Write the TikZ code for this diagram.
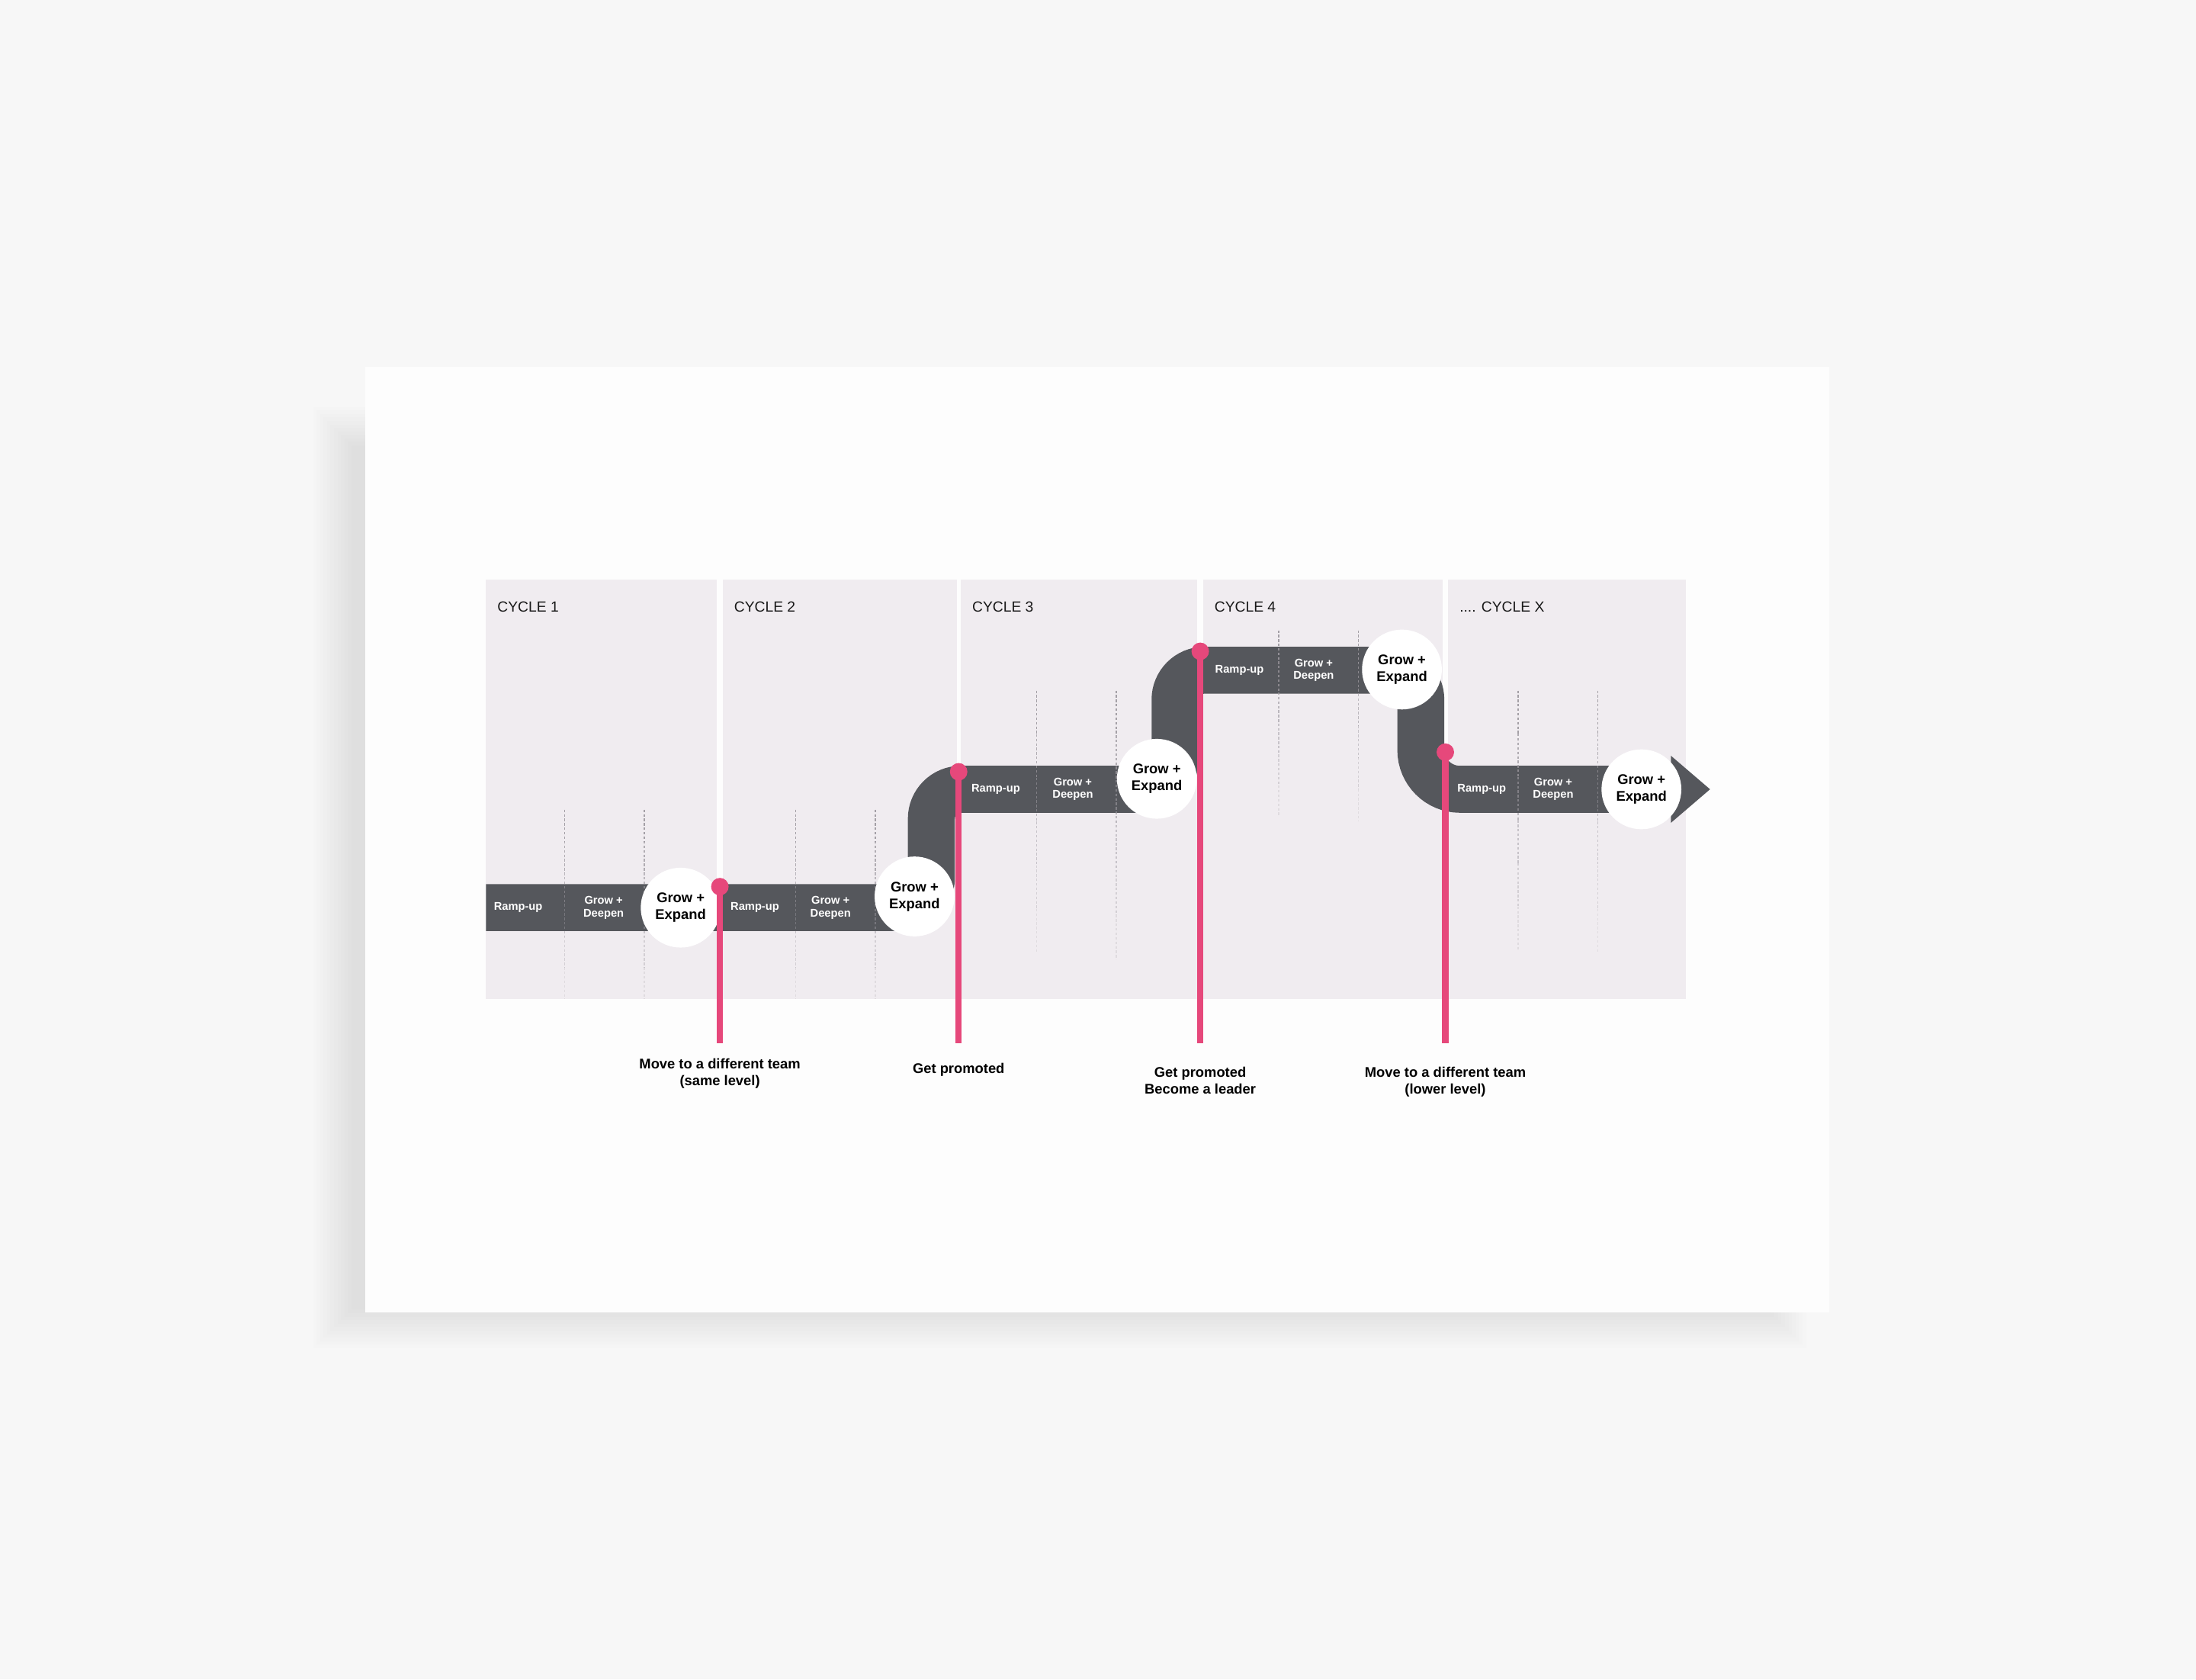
\documentclass[tikz,border=0pt]{standalone}
\usepackage{fontspec}
\setmainfont{Liberation Sans}
\usetikzlibrary{positioning}

\definecolor{pagebg}{HTML}{F7F7F7}
\definecolor{cardbg}{HTML}{FDFDFD}
\definecolor{panelbg}{HTML}{F0ECF0}
\definecolor{bandgray}{HTML}{55575C}
\definecolor{markpink}{HTML}{E6487B}
\definecolor{dashgray}{HTML}{9C989F}

\newcommand{\lastcycle}{.... CYCLE X}

\tikzset{
  panel/.style={fill=panelbg, draw=none},
  cyclelabel/.style={anchor=base west, inner sep=0pt, text=black!90, font=\fontsize{10.5}{12}\selectfont},
  phase/.style={dashgray, line width=0.7pt, dash pattern=on 1.8pt off 1.4pt},
  band/.style={bandgray, line width=33.5pt, rounded corners=21pt},
  bandtext/.style={text=white, align=center, inner sep=0pt, font=\fontsize{8}{9}\selectfont\bfseries},
  stage/.style={circle, fill=white, minimum size=57pt, inner sep=0pt, align=center, font=\fontsize{10}{12}\selectfont\bfseries},
  pin/.style={circle, fill=markpink, minimum size=12.5pt, inner sep=0pt},
  pinline/.style={markpink, line width=4.5pt},
  move/.style={align=center, inner sep=0pt, font=\fontsize{10}{12}\selectfont\bfseries},
}

\begin{document}
\begin{tikzpicture}[x=1pt, y=-1pt]
  \fill[pagebg] (0,0) rectangle (1568,1199);
  \useasboundingbox (0,0) rectangle (1568,1199);

  % card and its shadow
  \foreach \k in {0,...,11}
    \fill[black, opacity=0.008] ({251-2.5*\k},{318-2.5*\k}) rectangle ({1262+2.5*\k},{935+2.5*\k});
  \fill[cardbg] (261,262) rectangle (1306,937);

  % cycles
  \foreach \i/\xl/\xr/\lab in {1/347/512/CYCLE 1, 2/516/683/CYCLE 2, 3/686/855/CYCLE 3,
                               4/859/1030/CYCLE 4, 5/1034/1204/\lastcycle} {
    \fill[panel] (\xl,414) rectangle (\xr,713);
    \node[cyclelabel] (c\i) at ({\xl+8},437) {\lab};
  }

  % path through the levels
  \draw[band] (347,648) -- (665,648) -- (665,563.5) -- (839,563.5) -- (839,478.5)
    -- (1014.5,478.5) [rounded corners=28pt] -- (1014.5,563.5) -- (1196,563.5);
  \fill[bandgray] (1193,539.5) -- (1221,563.5) -- (1193,587.5) -- cycle;

  % phase lines, lighter towards the bottom
  \foreach \x/\ya/\yb in {403/578/713, 460/578/713, 568/578/713, 625/578/713, 740/493/680,
                          797/493/685, 913/450/583, 970/450/586, 1084/493/678, 1141/493/680}
    \foreach \s in {0,...,5}
      \draw[phase, opacity={0.9-0.14*\s}] (\x,{\ya+\s*(\yb-\ya)/6}) -- (\x,{\ya+(\s+1)*(\yb-\ya)/6});

  \foreach \i/\xa/\xb/\y in {1/370/431/648, 2/539/593/648, 3/711/766/563.5,
                             4/885/938/478.5, 5/1058/1109/563.5} {
    \node[bandtext] (r\i) at (\xa,\y) {Ramp-up};
    \node[bandtext] (g\i) at (\xb,\y) {Grow +\\Deepen};
  }

  \foreach \i/\x/\y in {1/486/648, 2/653/640, 3/826/556, 4/1001/478, 5/1172/563.5}
    \node[stage] (s\i) at (\x,\y) {Grow +\\Expand};

  % moves between cycles
  \foreach \i/\x/\y in {1/514/633, 2/684.5/551, 3/857/465, 4/1032/537} {
    \coordinate (e\i) at (\x,745);
    \draw[pinline] (\x,\y) -- (e\i);
    \node[pin] (p\i) at (\x,\y) {};
  }

  \node[move, below=10.5pt of e1] (m1) {Move to a different team\\(same level)};
  \node[move, below=14pt of e2] (m2) {Get promoted};
  \node[move, below=16.5pt of e3] (m3) {Get promoted\\Become a leader};
  \node[move, below=16.5pt of e4] (m4) {Move to a different team\\(lower level)};
\end{tikzpicture}
\end{document}
